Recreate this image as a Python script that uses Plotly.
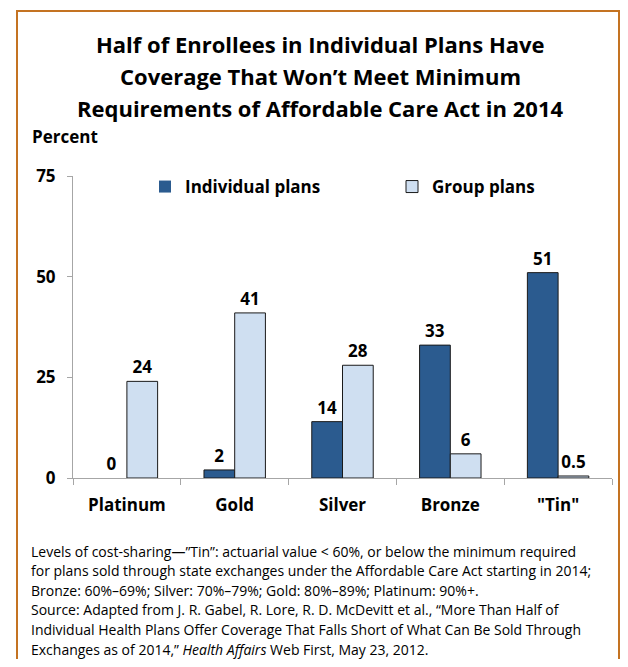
import plotly.graph_objects as go

categories = ["Platinum", "Gold", "Silver", "Bronze", "\"Tin\""]
individual = [0, 2, 14, 33, 51]
group = [24, 41, 28, 6, 0.5]
individual_labels = ["0", "2", "14", "33", "51"]
group_labels = ["24", "41", "28", "6", "0.5"]
y_ticks = [0, 25, 50, 75]

# page has an 8px body margin; work in reference-pixel coordinates
OFF = 8
W, H = 628 - 2 * OFF, 667 - 2 * OFF
PL, PR, PT, PB = 73, 612, 176, 478
L, R, T, B = PL - OFF, W - (PR - OFF), PT - OFF, H - (PB - OFF)
PW, PH = PR - PL, PB - PT

def px(x):
    return (x - PL) / PW

def py(y):
    return (PB - y) / PH

FONT = "Open Sans, sans-serif"
DARK = "#2B5B8F"
LIGHT = "#CFDFF1"
AX = "#A6A6A6"
BORDER = "#C47322"

fig = go.Figure()
fig.add_trace(go.Bar(
    x=categories, y=individual, name="Individual plans", legend="legend",
    marker=dict(color=DARK, line=dict(color="#1a1a1a", width=[0, 1, 1, 1, 1])),
    text=individual_labels, textposition="outside", cliponaxis=False,
    textfont=dict(family=FONT, size=17, color="black", weight="bold"),
))
fig.add_trace(go.Bar(
    x=categories, y=group, name="Group plans", legend="legend2",
    marker=dict(color=LIGHT, line=dict(color="#1a1a1a", width=1)),
    text=group_labels, textposition="outside", cliponaxis=False,
    textfont=dict(family=FONT, size=17, color="black", weight="bold"),
))

title_lines = [
    "Half of Enrollees in Individual Plans Have",
    "Coverage That Won\u2019t Meet Minimum",
    "Requirements of Affordable Care Act in 2014",
]
notes = [
    "Levels of cost-sharing\u2014\u201dTin\u201d: actuarial value < 60%, or below the minimum required",
    "for plans sold through state exchanges under the Affordable Care Act starting in 2014;",
    "Bronze: 60%\u201369%; Silver: 70%\u201379%; Gold: 80%\u201389%; Platinum: 90%+.",
    "Source: Adapted from J. R. Gabel, R. Lore, R. D. McDevitt et al., \u201cMore Than Half of",
    "Individual Health Plans Offer Coverage That Falls Short of What Can Be Sold Through",
    "Exchanges as of 2014,\u201d <i>Health Affairs</i> Web First, May 23, 2012.",
]

ann = []
for i, t in enumerate(title_lines):
    ann.append(dict(x=px(320), y=py(43.5 + i * 32.5), xref="paper", yref="paper",
                    text=t, showarrow=False, xanchor="center", yanchor="middle",
                    font=dict(family=FONT, size=22, color="black", weight="bold")))
ann.append(dict(x=px(30), y=py(136), xref="paper", yref="paper", text="Percent",
                showarrow=False, xanchor="left", yanchor="middle",
                font=dict(family=FONT, size=17, color="black", weight="bold")))
for i, t in enumerate(notes):
    ann.append(dict(x=px(29), y=py(551 + i * 19.6), xref="paper", yref="paper",
                    text=t, showarrow=False, xanchor="left", yanchor="middle",
                    font=dict(family=FONT, size=14, color="black")))

legend_common = dict(orientation="h", xanchor="left", yanchor="top",
                     font=dict(family=FONT, size=17, color="black", weight="bold"),
                     itemwidth=30, bgcolor="rgba(0,0,0,0)")

fig.update_layout(
    width=W, height=H,
    margin=dict(l=L, r=R, t=T, b=B, pad=0),
    paper_bgcolor="white", plot_bgcolor="white",
    barmode="group", bargap=0.43, bargroupgap=0,
    showlegend=True,
    legend=dict(x=px(145), y=py(169), **legend_common),
    legend2=dict(x=px(392), y=py(169), **legend_common),
    annotations=ann,
    shapes=[
        dict(type="rect", xref="paper", yref="paper", layer="above",
             x0=px(17), x1=px(619), y0=py(690), y1=py(11),
             line=dict(color=BORDER, width=2)),
    ],
    xaxis=dict(showline=True, linecolor=AX, linewidth=1, ticks="outside",
               tickson="boundaries", ticklen=6, tickcolor=AX, showgrid=False,
               ticklabelstandoff=12,
               tickfont=dict(family=FONT, size=17, color="black", weight="bold")),
    yaxis=dict(range=[0, 75], tickvals=y_ticks, showline=True, linecolor=AX,
               linewidth=1, ticks="outside", ticklen=5, tickcolor=AX,
               showgrid=False, zeroline=False, ticklabelstandoff=8,
               tickfont=dict(family=FONT, size=17, color="black", weight="bold")),
)

fig.write_html("out.html")
